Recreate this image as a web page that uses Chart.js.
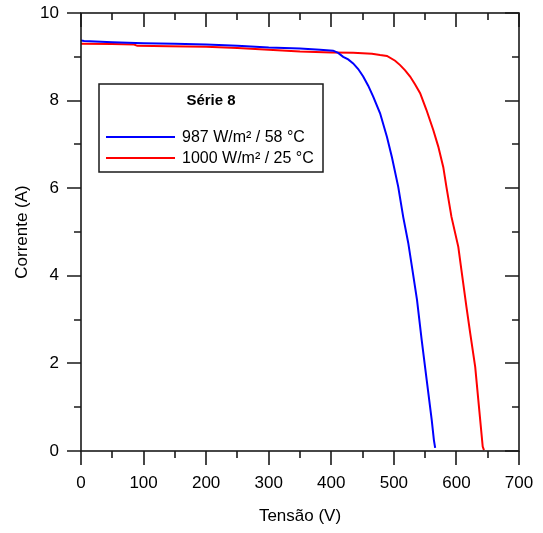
<!DOCTYPE html>
<html>
<head>
<meta charset="utf-8">
<script src="https://cdn.jsdelivr.net/npm/chart.js@4.4.1/dist/chart.umd.min.js"></script>
<style>
  html, body { margin: 0; padding: 0; background: #ffffff; }
  #wrap { width: 543px; height: 533px; }
</style>
</head>
<body>
<div id="wrap"><canvas id="c" width="543" height="533"></canvas></div>
<script>
// I-V curves, module series 8
const tensao987 = [0, 5, 50, 100, 150, 200, 250, 300, 350, 382, 403, 411, 419, 427, 435, 443, 451, 459, 467, 478, 489, 497, 507, 515, 523, 529, 537, 544.5, 552.5, 560.5, 564, 566];
const corrente987 = [9.37, 9.36, 9.33, 9.31, 9.30, 9.28, 9.25, 9.21, 9.19, 9.16, 9.14, 9.09, 9.00, 8.94, 8.85, 8.72, 8.55, 8.34, 8.09, 7.71, 7.17, 6.70, 6.03, 5.34, 4.75, 4.20, 3.45, 2.53, 1.62, 0.71, 0.25, 0.07];

const tensao1000 = [0, 50, 85, 90, 140, 200, 250, 300, 350, 400, 435, 465, 478, 489, 502, 510, 518, 526, 534, 542, 552, 563, 571, 579, 584, 592, 603, 608, 616, 622, 630, 635, 642, 644];
const corrente1000 = [9.30, 9.29, 9.28, 9.25, 9.24, 9.23, 9.20, 9.16, 9.12, 9.10, 9.09, 9.07, 9.04, 9.02, 8.91, 8.81, 8.69, 8.55, 8.37, 8.17, 7.79, 7.33, 6.95, 6.48, 6.03, 5.35, 4.66, 4.13, 3.29, 2.69, 1.92, 1.16, 0.10, 0.02];

const seriesLabels = ['987 W/m² / 58 °C', '1000 W/m² / 25 °C'];
const seriesColors = ['#0000ff', '#ff0000'];
const legendTitle = 'Série 8';

const xMajor = [0, 100, 200, 300, 400, 500, 600, 700];
const xMinor = [50, 150, 250, 350, 450, 550, 650];
const yMajor = [0, 2, 4, 6, 8, 10];
const yMinor = [1, 3, 5, 7, 9];

const toPoints = (xs, ys) => xs.map((x, i) => ({ x: x, y: ys[i] }));

const FONT = 'Liberation Sans, Arial, Helvetica, sans-serif';
const INK = '#1a1a1a';

// Box around the plot with tick marks: outward on left/bottom, inward on top/right
const framePlugin = {
  id: 'frameTicks',
  afterDatasetsDraw(chart) {
    const { ctx, chartArea: a, scales: { x, y } } = chart;
    const MAJ = 14, MIN = 7;
    ctx.save();
    ctx.strokeStyle = INK;
    ctx.lineWidth = 1.6;
    ctx.strokeRect(a.left, a.top, a.right - a.left, a.bottom - a.top);
    ctx.beginPath();
    const xt = (vals, len) => vals.forEach(v => {
      const px = Math.round(x.getPixelForValue(v));
      ctx.moveTo(px, a.bottom); ctx.lineTo(px, a.bottom + len);
      ctx.moveTo(px, a.top); ctx.lineTo(px, a.top + len);
    });
    const yt = (vals, len) => vals.forEach(v => {
      const py = Math.round(y.getPixelForValue(v));
      ctx.moveTo(a.left, py); ctx.lineTo(a.left - len, py);
      ctx.moveTo(a.right, py); ctx.lineTo(a.right - len, py);
    });
    xt(xMajor, MAJ); xt(xMinor, MIN);
    yt(yMajor, MAJ); yt(yMinor, MIN);
    ctx.stroke();
    ctx.restore();
  }
};

// Boxed legend with title inside the plot
const boxLegendPlugin = {
  id: 'boxLegend',
  afterDraw(chart) {
    const { ctx } = chart;
    const box = { l: 99, t: 84, r: 323, b: 172 };
    ctx.save();
    ctx.fillStyle = '#ffffff';
    ctx.fillRect(box.l, box.t, box.r - box.l, box.b - box.t);
    ctx.strokeStyle = INK;
    ctx.lineWidth = 1.5;
    ctx.strokeRect(box.l, box.t, box.r - box.l, box.b - box.t);

    ctx.fillStyle = '#000';
    ctx.textBaseline = 'middle';
    ctx.textAlign = 'center';
    ctx.font = 'bold 15px ' + FONT;
    ctx.fillText(legendTitle, 211, 101);

    ctx.textAlign = 'left';
    ctx.font = '16px ' + FONT;
    chart.data.datasets.forEach((ds, i) => {
      const yy = 137 + i * 21;
      ctx.strokeStyle = ds.borderColor;
      ctx.lineWidth = 2;
      ctx.beginPath();
      ctx.moveTo(106, yy); ctx.lineTo(175, yy);
      ctx.stroke();
      ctx.fillStyle = '#000';
      ctx.fillText(ds.label, 182, yy + 1);
    });
    ctx.restore();
  }
};

new Chart(document.getElementById('c'), {
  type: 'line',
  data: {
    datasets: [
      { label: seriesLabels[0], data: toPoints(tensao987, corrente987), borderColor: seriesColors[0] },
      { label: seriesLabels[1], data: toPoints(tensao1000, corrente1000), borderColor: seriesColors[1] }
    ].map(d => Object.assign(d, { borderWidth: 2, pointRadius: 0, tension: 0, fill: false }))
  },
  options: {
    responsive: false,
    animation: false,
    devicePixelRatio: 1,
    layout: { padding: { left: 0, right: 24, top: 13, bottom: 0 } },
    plugins: { legend: { display: false }, tooltip: { enabled: false } },
    scales: {
      x: {
        type: 'linear', position: 'bottom', min: 0, max: 700,
        afterFit: s => { s.height = 82; s.paddingLeft = 0; s.paddingRight = 0; },
        grid: { display: false, drawTicks: false },
        border: { display: false },
        ticks: { stepSize: 100, padding: 22, color: '#000', font: { family: FONT, size: 17 } },
        title: { display: true, text: 'Tensão (V)', color: '#000', font: { family: FONT, size: 17 }, padding: { top: 0, bottom: 6 } }
      },
      y: {
        type: 'linear', position: 'left', min: 0, max: 10,
        afterFit: s => { s.width = 81; s.paddingTop = 0; s.paddingBottom = 0; },
        grid: { display: false, drawTicks: false },
        border: { display: false },
        ticks: { stepSize: 2, padding: 22, color: '#000', font: { family: FONT, size: 17 } },
        title: { display: true, text: 'Corrente (A)', color: '#000', font: { family: FONT, size: 17 }, padding: { top: 12, bottom: 0 } }
      }
    }
  },
  plugins: [framePlugin, boxLegendPlugin]
});
</script>
</body>
</html>
